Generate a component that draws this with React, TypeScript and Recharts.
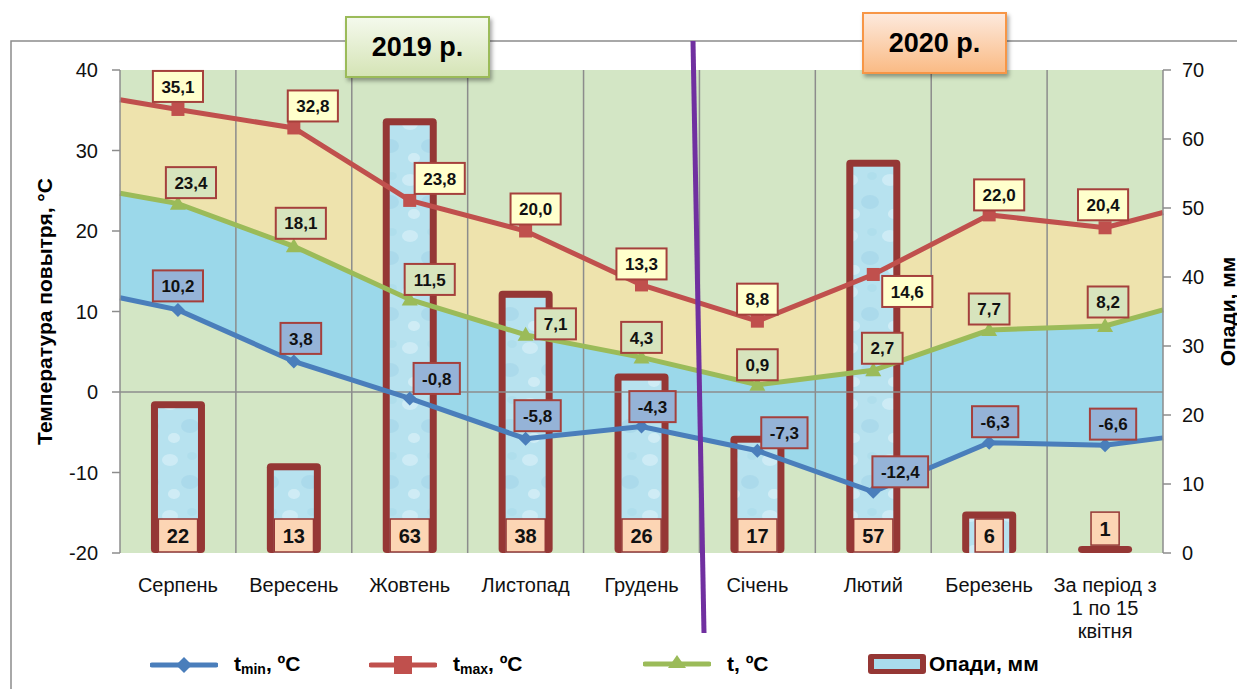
import {
  Area,
  Bar,
  ComposedChart,
  LabelList,
  Line,
  ReferenceLine,
  CartesianGrid,
  XAxis,
  YAxis,
} from "recharts";

const months = [
  "Серпень",
  "Вересень",
  "Жовтень",
  "Листопад",
  "Грудень",
  "Січень",
  "Лютий",
  "Березень",
  "За період з\n1 по 15\nквітня",
];
const tMin = [10.2, 3.8, -0.8, -5.8, -4.3, -7.3, -12.4, -6.3, -6.6];
const tMax = [35.1, 32.8, 23.8, 20.0, 13.3, 8.8, 14.6, 22.0, 20.4];
const tMean = [23.4, 18.1, 11.5, 7.1, 4.3, 0.9, 2.7, 7.7, 8.2];
const precip = [22, 13, 63, 38, 26, 17, 57, 6, 1];
// lines run on to the edges of the plot: values read at left / right edge
const tMinEdges = [11.7, -5.7];
const tMaxEdges = [36.3, 22.3];
const tMeanEdges = [24.7, 10.2];
const tempTicks = [-20, -10, 0, 10, 20, 30, 40];
const precipTicks = [0, 10, 20, 30, 40, 50, 60, 70];

const FONT = '"Liberation Sans", Arial, sans-serif';
const FRAME = "#953735";

const rows = [
  { pos: 0, tMin: tMinEdges[0], tMax: tMaxEdges[0], tMean: tMeanEdges[0], edge: true },
  ...months.map((name, i) => ({
    pos: i + 0.5,
    name,
    tMin: tMin[i],
    tMax: tMax[i],
    tMean: tMean[i],
    precip: precip[i],
    edge: false,
  })),
  { pos: months.length, tMin: tMinEdges[1], tMax: tMaxEdges[1], tMean: tMeanEdges[1], edge: true },
];

// where each value box sits relative to its point (dx, dy)
const SHIFT: Record<string, number[][]> = {
  tMax: [[0, -23], [19, -22], [30, -22], [10, -22], [0, -21], [0, -22], [34, 17], [10, -20], [-2, -23]],
  tMean: [[13, -21], [7, -23], [20, -20], [30, -11], [0, -20], [0, -20], [9, -22], [0, -21], [3, -24]],
  tMin: [[0, -24], [7, -23], [27, -20], [12, -23], [11, -20], [27, -18], [27, -20], [6, -21], [8, -21]],
};

const fmt = (v: number) => v.toFixed(1).replace(".", ",");
const textW = (s: string, size: number) =>
  s.split("").reduce((w, c) => w + (c === "," ? 0.28 : c === "-" ? 0.33 : 0.556), 0) * size;

const marker = (kind: string, color: string) => (p: any) => {
  const { cx, cy, index } = p;
  const key = `${kind}-${index}`;
  if (cx == null || rows[index]?.edge) return <g key={key} />;
  if (kind === "square")
    return <rect key={key} x={cx - 6.5} y={cy - 6.5} width={13} height={13} fill={color} />;
  if (kind === "diamond")
    return <path key={key} d={`M${cx} ${cy - 7}L${cx + 7} ${cy}L${cx} ${cy + 7}L${cx - 7} ${cy}Z`} fill={color} />;
  return <path key={key} d={`M${cx} ${cy - 8}L${cx + 8} ${cy + 6}L${cx - 8} ${cy + 6}Z`} fill={color} />;
};

const valueLabel = (series: string, fill: string) => (p: any) => {
  const { index, value } = p;
  if (rows[index]?.edge || value == null) return null;
  const x = p.x ?? p.viewBox?.x;
  const y = p.y ?? p.viewBox?.y;
  const [dx, dy] = SHIFT[series][index - 1];
  const text = fmt(Number(value));
  const w = textW(text, 17) + 17;
  const h = 31;
  const cx = x + dx;
  const cy = y + dy;
  return (
    <g key={`${series}-l-${index}`}>
      <rect x={cx - w / 2} y={cy - h / 2} width={w} height={h} fill={fill} stroke="#a5403c" strokeWidth={2} />
      <text x={cx} y={cy} dy="0.36em" textAnchor="middle" fontFamily={FONT} fontWeight="bold" fontSize={17} fill="#111">
        {text}
      </text>
    </g>
  );
};

const PrecipBar = (p: any) => {
  const { x, y, width, height } = p;
  if (!height || height <= 0) return <g />;
  const f = 7;
  return (
    <g>
      <rect x={x} y={y} width={width} height={height} rx={4} fill={FRAME} />
      {height > f * 2 ? (
        <rect x={x + f} y={y + f} width={width - 2 * f} height={height - f} fill="url(#water)" />
      ) : null}
    </g>
  );
};

const precipLabel = (p: any) => {
  const { value, index } = p;
  if (value == null) return null;
  const vb = p.viewBox ?? p;
  const { x, y, width, height } = vb;
  const text = String(value);
  const w = textW(text, 20) + 17;
  const h = 33;
  const bottom = height < 20 ? y - 1 : y + height - 1;
  const cx = x + width / 2;
  return (
    <g key={`p-l-${index}`}>
      <rect x={cx - w / 2} y={bottom - h} width={w} height={h} fill="#fcd5b4" stroke={FRAME} strokeWidth={1.5} />
      <text x={cx} y={bottom - h / 2} dy="0.36em" textAnchor="middle" fontFamily={FONT} fontWeight="bold" fontSize={20} fill="#111">
        {text}
      </text>
    </g>
  );
};

const MonthTick = (p: any) => {
  const { x, y, payload } = p;
  const name = months[Math.floor(payload.value)] ?? "";
  return (
    <text x={x} y={y} textAnchor="middle" fontFamily={FONT} fontSize={20} fill="#111">
      {name.split("\n").map((line, k) => (
        <tspan key={k} x={x} dy={k === 0 ? 31 : 23}>
          {line}
        </tspan>
      ))}
    </text>
  );
};

const AxisTitle = (p: any) => {
  const vb = p.viewBox;
  const x = vb.x + p.shift;
  const y = vb.y + vb.height / 2;
  return (
    <text
      transform={`translate(${x}, ${y}) rotate(-90)`}
      textAnchor="middle"
      dominantBaseline="central"
      fontFamily={FONT}
      fontWeight="bold"
      fontSize={21}
      fill="#000"
    >
      {p.text}
    </text>
  );
};

const legendItems = [
  { kind: "diamond", color: "#4a7ebb", left: 150, main: "t", sub: "min", tail: ", ºC" },
  { kind: "square", color: "#c0504d", left: 369, main: "t", sub: "max", tail: ", ºC" },
  { kind: "triangle", color: "#9bbb59", left: 643, main: "t", sub: "", tail: ", ºC" },
  { kind: "bar", color: FRAME, left: 867, main: "Опади, мм", sub: "", tail: "" },
];

function LegendIcon({ kind, color }: { kind: string; color: string }) {
  if (kind === "bar")
    return (
      <svg width={60} height={22}>
        <rect x={1} y={1} width={58} height={20} rx={3} fill={FRAME} />
        <rect x={7} y={6} width={46} height={10} fill="#a9dcec" />
      </svg>
    );
  const c = 34;
  return (
    <svg width={68} height={22}>
      <line x1={2} y1={11} x2={66} y2={11} stroke={color} strokeWidth={5} strokeLinecap="round" />
      {kind === "diamond" && <path d={`M${c} 3L${c + 8} 11L${c} 19L${c - 8} 11Z`} fill={color} />}
      {kind === "square" && <rect x={c - 9} y={2} width={18} height={18} fill={color} />}
      {kind === "triangle" && <path d={`M${c} 2L${c + 9} 15L${c - 9} 15Z`} fill={color} />}
    </svg>
  );
}

const yearBox = (left: number, top: number, border: string, from: string, to: string) => ({
  position: "absolute" as const,
  left,
  top,
  width: 141,
  height: 58,
  border: `2px solid ${border}`,
  background: `linear-gradient(${from}, ${to})`,
  boxShadow: "2px 3px 4px rgba(0,0,0,0.35)",
  display: "flex",
  alignItems: "center",
  justifyContent: "center",
  fontFamily: FONT,
  fontWeight: "bold" as const,
  fontSize: 27,
  color: "#000",
});

export default function App() {
  return (
    <div style={{ position: "absolute", left: 0, top: 0, width: 1237, height: 689, overflow: "hidden", background: "#fff" }}>
      <svg width={1237} height={689} style={{ position: "absolute", left: 0, top: 0 }}>
        <rect x={11} y={41} width={1300} height={700} fill="none" stroke="#8c8c8c" strokeWidth={1.5} />
      </svg>
      <div style={{ position: "absolute", left: 0, top: 0 }}>
        <ComposedChart width={1237} height={689} data={rows} margin={{ top: 70, right: 14, bottom: 106, left: 60 }}>
          <defs>
            <pattern id="water" width="40" height="56" patternUnits="userSpaceOnUse">
              <rect width="40" height="56" fill="#b7e2ef" />
              <ellipse cx="10" cy="12" rx="8" ry="6" fill="#d6f0f8" opacity="0.7" />
              <ellipse cx="30" cy="34" rx="9" ry="7" fill="#a3d6e7" opacity="0.6" />
              <ellipse cx="14" cy="46" rx="6" ry="5" fill="#dff3f9" opacity="0.6" />
              <ellipse cx="32" cy="8" rx="5" ry="4" fill="#a8d9e9" opacity="0.5" />
            </pattern>
          </defs>
          <CartesianGrid horizontal={false} vertical={false} fill="#d3e6c5" stroke="none" />
          <XAxis
            dataKey="pos"
            type="number"
            domain={[0, months.length]}
            ticks={rows.filter((r) => !r.edge).map((r) => r.pos)}
            interval={0}
            tick={MonthTick}
            axisLine={false}
            tickLine={false}
            height={30}
          />
          <YAxis
            yAxisId="temp"
            domain={[-20, 40]}
            ticks={tempTicks}
            allowDataOverflow
            width={60}
            stroke="#8c8c8c"
            strokeWidth={1.5}
            tickSize={8}
            tickMargin={14}
            tick={{ fill: "#111", fontSize: 20, fontFamily: FONT }}
            label={<AxisTitle text="Температура повытря, °С" shift={-16} />}
          />
          <YAxis
            yAxisId="precip"
            orientation="right"
            domain={[0, 70]}
            ticks={precipTicks}
            allowDataOverflow
            width={60}
            stroke="#8c8c8c"
            strokeWidth={1.5}
            tickSize={8}
            tickMargin={11}
            tick={{ fill: "#111", fontSize: 20, fontFamily: FONT }}
            label={<AxisTitle text="Опади, мм" shift={64} />}
          />
          <Area yAxisId="temp" dataKey="tMax" baseValue="dataMin" type="linear" stroke="none" fill="#eee3ad" fillOpacity={1} isAnimationActive={false} activeDot={false} />
          <Area yAxisId="temp" dataKey="tMean" baseValue="dataMin" type="linear" stroke="none" fill="#9bd8ea" fillOpacity={1} isAnimationActive={false} activeDot={false} />
          <Area yAxisId="temp" dataKey="tMin" baseValue="dataMin" type="linear" stroke="none" fill="#d3e6c5" fillOpacity={1} isAnimationActive={false} activeDot={false} />
          {months.slice(1).map((_, i) => (
            <ReferenceLine key={i} yAxisId="temp" x={i + 1} stroke="#8c8c8c" strokeWidth={1.5} />
          ))}
          <ReferenceLine yAxisId="temp" y={0} stroke="#8c8c8c" strokeWidth={1.5} />
          <Bar yAxisId="precip" dataKey="precip" barSize={54} shape={PrecipBar} isAnimationActive={false}>
            <LabelList dataKey="precip" content={precipLabel} />
          </Bar>
          <Line yAxisId="temp" dataKey="tMax" type="linear" stroke="#c0504d" strokeWidth={5} dot={marker("square", "#c0504d")} activeDot={false} isAnimationActive={false}>
            <LabelList dataKey="tMax" content={valueLabel("tMax", "#ffffcc")} />
          </Line>
          <Line yAxisId="temp" dataKey="tMean" type="linear" stroke="#9bbb59" strokeWidth={5} dot={marker("triangle", "#9bbb59")} activeDot={false} isAnimationActive={false}>
            <LabelList dataKey="tMean" content={valueLabel("tMean", "#d7e4bd")} />
          </Line>
          <Line yAxisId="temp" dataKey="tMin" type="linear" stroke="#4a7ebb" strokeWidth={5} dot={marker("diamond", "#4a7ebb")} activeDot={false} isAnimationActive={false}>
            <LabelList dataKey="tMin" content={valueLabel("tMin", "#95b3d7")} />
          </Line>
        </ComposedChart>
      </div>
      <svg width={1237} height={689} style={{ position: "absolute", left: 0, top: 0, pointerEvents: "none" }}>
        <line x1={693} y1={41} x2={704} y2={633} stroke="#7030a0" strokeWidth={5} />
      </svg>
      <div style={yearBox(345, 16, "#9bbb59", "#f4f9ec", "#d5e4b6")}>2019 р.</div>
      <div style={yearBox(862, 12, "#f79646", "#fde9dc", "#fabb85")}>2020 р.</div>
      {legendItems.map((it) => (
        <div
          key={it.left}
          style={{
            position: "absolute",
            left: it.left,
            top: 652,
            display: "flex",
            alignItems: "center",
            gap: it.kind === "bar" ? 2 : 16,
            fontFamily: FONT,
            fontWeight: "bold",
            fontSize: 21,
            color: "#000",
            whiteSpace: "nowrap",
          }}
        >
          <LegendIcon kind={it.kind} color={it.color} />
          <span>
            {it.main}
            {it.sub ? <sub style={{ fontSize: 14, verticalAlign: "-3px" }}>{it.sub}</sub> : null}
            {it.tail}
          </span>
        </div>
      ))}
    </div>
  );
}
